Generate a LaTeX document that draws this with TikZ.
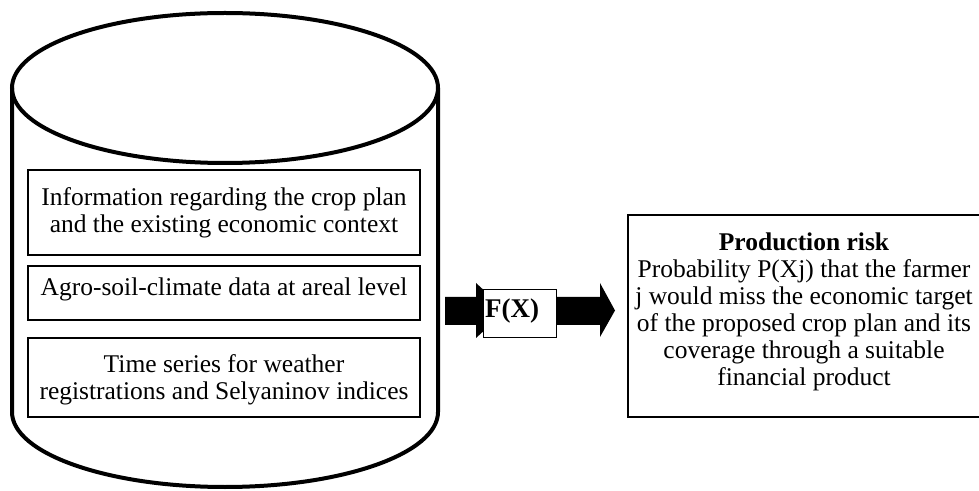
\documentclass[tikz,border=0pt]{standalone}
\usepackage{fontspec}
\setmainfont{Liberation Serif}
\begin{document}
\begin{tikzpicture}[x=1pt,y=1pt,
  txt/.style={align=center,inner sep=0pt,font=\fontsize{25.5}{27}\selectfont},
  inbox/.style={draw,line width=1.6pt},
  blockarrow/.style={fill=black,draw=none}]
\clip (0,0) rectangle (979,490);
\useasboundingbox (0,0) rectangle (979,490);
% cylinder
\draw[line width=4pt] (225,402) ellipse [x radius=213, y radius=75];
\draw[line width=4pt,line join=round] (12,402) -- (12,78) arc[start angle=180,end angle=360,x radius=213,y radius=75] -- (438,402);
% inner boxes
\draw[inbox] (28,320) rectangle (420,235);
\node[txt] (t1) at (224,277) {Information regarding the crop plan\\and the existing economic context};
\draw[inbox] (28,224) rectangle (420,170);
\node[txt] (t2) at (224,201) {Agro-soil-climate data at areal level};
\draw[inbox] (28,152) rectangle (420,73);
\node[txt] (t3) at (224,110) {Time series for weather\\registrations and Selyaninov indices};
% arrows
\coordinate (la) at (445,179);
\coordinate (ra) at (615,179.5);
\fill[blockarrow] (445,193) -- (476,193) -- (476,207) -- (506,179.5) -- (476,152) -- (476,165) -- (445,165) -- cycle;
\fill[blockarrow] (550,193) -- (600,193) -- (600,207) -- (ra) -- (600,153) -- (600,165) -- (550,165) -- cycle;
% F(X) box
\draw[line width=1pt,fill=white] (483,200) rectangle (556,152);
\node[txt,font=\fontsize{27}{27}\selectfont\bfseries] (fx) at (512,179) {F(X)};
% right box
\draw[line width=1.5pt] (628,275) rectangle (990,73);
\node[txt] (pr) at (804,178) {\textbf{Production risk}\\Probability P(Xj) that the farmer\\j would miss the economic target\\of the proposed crop plan and its\\coverage through a suitable\\financial product};
\end{tikzpicture}
\end{document}
